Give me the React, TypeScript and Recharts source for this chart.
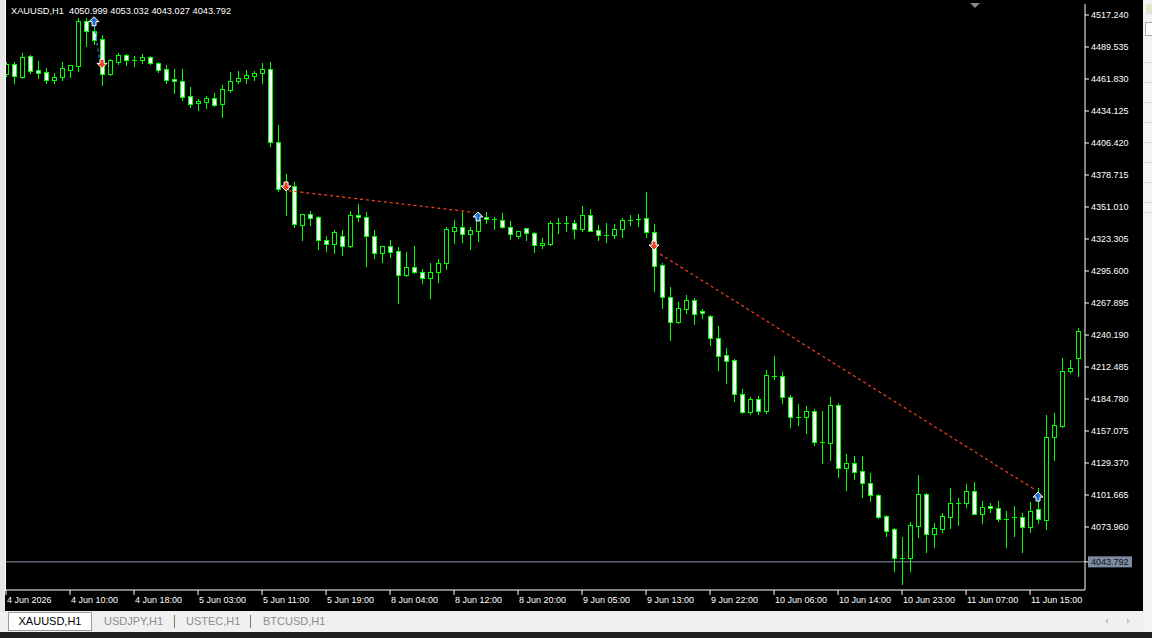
import React from "react";
import {
  ComposedChart,
  Bar,
  XAxis,
  YAxis,
  ReferenceLine,
  ReferenceDot
} from "recharts";

// XAUUSD H1 candles (one per hour)
const OPEN = [
  4466.2, 4474.8, 4463.6, 4481.7, 4469.6, 4467.9, 4461.0, 4463.6, 4469.6, 4473.1,
  4512.0, 4503.4, 4496.5, 4466.2, 4476.5, 4482.6, 4478.3, 4478.3, 4480.9, 4475.7,
  4470.5, 4461.8, 4460.1, 4447.1, 4441.0, 4441.9, 4445.4, 4440.2, 4452.3, 4460.1,
  4462.7, 4464.4, 4467.0, 4470.5, 4407.3, 4366.6, 4369.2, 4335.4, 4344.9, 4342.4,
  4322.4, 4319.0, 4325.9, 4317.2, 4344.1, 4342.4, 4325.9, 4311.2, 4317.2, 4312.9,
  4292.1, 4299.1, 4294.7, 4289.5, 4294.7, 4302.5, 4330.2, 4333.7, 4327.6, 4330.2,
  4342.4, 4340.6, 4339.8, 4333.7, 4325.9, 4332.8, 4328.5, 4318.1, 4319.0, 4337.2,
  4337.2, 4337.2, 4332.0, 4344.1, 4331.1, 4326.8, 4326.8, 4332.0, 4339.8, 4340.6,
  4341.5, 4329.4, 4300.8, 4273.1, 4251.4, 4262.7, 4270.5, 4261.0, 4256.6, 4237.6,
  4222.9, 4218.5, 4189.1, 4173.5, 4184.8, 4174.4, 4204.7, 4204.7, 4186.5, 4169.2,
  4169.2, 4174.4, 4147.6, 4146.7, 4179.6, 4125.0, 4129.4, 4122.4, 4112.1, 4101.7,
  4083.5, 4072.2, 4047.1, 4047.1, 4074.8, 4102.5, 4067.9, 4072.2, 4082.6, 4094.7,
  4094.7, 4105.1, 4085.2, 4092.1, 4090.4, 4080.9, 4082.6, 4082.6, 4074.0, 4089.5,
  4080.0, 4151.9, 4161.4, 4209.0, 4220.3
];
const HIGH = [
  4476.5, 4476.5, 4484.3, 4482.6, 4477.4, 4471.4, 4467.0, 4476.5, 4474.0, 4514.6,
  4514.6, 4507.7, 4499.9, 4479.1, 4484.3, 4483.5, 4481.7, 4483.5, 4481.7, 4476.5,
  4474.0, 4470.5, 4470.5, 4454.9, 4444.5, 4447.1, 4449.7, 4456.6, 4467.9, 4468.8,
  4469.6, 4468.8, 4475.7, 4476.5, 4422.0, 4379.6, 4372.7, 4344.9, 4347.5, 4343.2,
  4325.9, 4331.1, 4331.1, 4347.5, 4353.6, 4346.7, 4331.1, 4317.2, 4322.4, 4316.4,
  4312.0, 4317.2, 4297.3, 4302.5, 4306.0, 4333.7, 4339.8, 4346.7, 4333.7, 4345.8,
  4346.7, 4342.4, 4345.8, 4338.9, 4330.6, 4333.2, 4329.4, 4324.2, 4338.9, 4341.5,
  4343.2, 4339.8, 4351.9, 4349.3, 4335.4, 4337.2, 4336.3, 4341.5, 4344.1, 4344.9,
  4364.0, 4336.3, 4302.5, 4281.7, 4268.8, 4274.8, 4272.2, 4262.7, 4257.5, 4248.0,
  4228.9, 4219.4, 4193.4, 4186.5, 4187.4, 4209.9, 4222.0, 4208.2, 4188.2, 4180.4,
  4178.7, 4176.1, 4174.4, 4186.5, 4181.3, 4137.2, 4135.4, 4135.4, 4120.7, 4102.2,
  4084.0, 4072.7, 4065.3, 4078.3, 4119.0, 4103.4, 4077.4, 4086.1, 4107.7, 4099.1,
  4111.2, 4112.9, 4096.5, 4094.7, 4096.5, 4087.8, 4092.1, 4086.1, 4095.6, 4107.7,
  4170.9, 4172.7, 4220.3, 4218.5, 4246.2
];
const LOW = [
  4464.4, 4458.4, 4462.7, 4467.0, 4462.7, 4458.4, 4458.4, 4461.0, 4463.6, 4468.8,
  4490.4, 4492.1, 4456.6, 4465.3, 4474.8, 4474.0, 4473.1, 4475.7, 4474.8, 4467.9,
  4458.4, 4449.7, 4443.6, 4437.6, 4435.0, 4436.7, 4438.5, 4428.9, 4450.6, 4458.4,
  4458.4, 4461.0, 4458.4, 4403.8, 4364.9, 4344.1, 4333.7, 4322.4, 4335.4, 4314.6,
  4312.9, 4311.2, 4309.5, 4316.4, 4338.9, 4299.9, 4306.9, 4303.4, 4307.7, 4267.9,
  4291.5, 4294.2, 4285.2, 4272.2, 4286.1, 4297.3, 4319.8, 4320.7, 4314.6, 4321.6,
  4337.2, 4332.0, 4332.8, 4323.3, 4324.2, 4322.4, 4312.0, 4315.5, 4318.1, 4328.5,
  4330.2, 4324.2, 4330.2, 4329.8, 4322.4, 4320.7, 4324.2, 4325.0, 4335.4, 4334.6,
  4325.0, 4278.3, 4263.6, 4235.9, 4250.6, 4259.2, 4249.7, 4254.9, 4231.5, 4209.9,
  4198.6, 4183.0, 4172.7, 4171.8, 4171.8, 4172.7, 4202.1, 4181.3, 4160.5, 4162.3,
  4155.3, 4145.0, 4129.4, 4132.0, 4117.2, 4106.0, 4115.5, 4099.9, 4096.5, 4081.8,
  4066.2, 4035.9, 4024.6, 4035.9, 4065.3, 4052.3, 4056.6, 4069.6, 4073.1, 4075.7,
  4091.3, 4084.8, 4077.4, 4086.9, 4079.2, 4056.6, 4066.2, 4052.3, 4069.6, 4077.4,
  4072.2, 4132.0, 4160.9, 4207.3, 4204.7
];
const CLOSE = [
  4474.8, 4464.4, 4480.9, 4468.8, 4467.0, 4461.0, 4463.6, 4471.4, 4474.0, 4512.0,
  4503.4, 4495.6, 4466.2, 4478.3, 4482.6, 4478.3, 4478.0, 4480.9, 4475.7, 4469.6,
  4461.0, 4460.1, 4446.2, 4440.2, 4442.8, 4445.4, 4439.3, 4453.2, 4460.1, 4462.7,
  4465.3, 4467.0, 4470.5, 4407.3, 4366.6, 4369.2, 4336.3, 4344.9, 4341.5, 4322.4,
  4319.0, 4329.4, 4317.2, 4344.1, 4342.4, 4325.9, 4311.2, 4317.2, 4312.0, 4292.1,
  4299.1, 4294.7, 4289.5, 4294.7, 4302.5, 4332.0, 4333.7, 4327.6, 4331.1, 4339.8,
  4340.6, 4340.4, 4333.7, 4327.6, 4330.2, 4328.5, 4318.1, 4319.8, 4337.2, 4337.0,
  4337.4, 4332.0, 4344.1, 4330.2, 4326.8, 4326.6, 4332.0, 4339.8, 4340.0, 4340.8,
  4329.4, 4299.9, 4273.1, 4251.4, 4263.6, 4270.5, 4258.4, 4259.2, 4237.6, 4222.0,
  4217.7, 4189.1, 4173.5, 4184.8, 4174.4, 4205.6, 4204.5, 4186.5, 4169.2, 4169.0,
  4174.4, 4147.6, 4147.4, 4179.6, 4125.0, 4129.4, 4121.6, 4112.1, 4101.7, 4082.6,
  4070.5, 4047.1, 4046.9, 4075.7, 4102.5, 4067.9, 4073.1, 4083.5, 4094.7, 4094.5,
  4105.1, 4085.2, 4091.3, 4090.4, 4080.9, 4080.7, 4082.4, 4074.0, 4087.8, 4080.9,
  4151.9, 4162.3, 4209.0, 4211.6, 4243.7
];

const TIME_TICKS = [0, 8, 16, 24, 32, 40, 48, 56, 64, 72, 80, 88, 96, 104, 112, 120, 128];
const TIME_LABELS = [
  "4 Jun 2026", "4 Jun 10:00", "4 Jun 18:00", "5 Jun 03:00", "5 Jun 11:00",
  "5 Jun 19:00", "8 Jun 04:00", "8 Jun 12:00", "8 Jun 20:00", "9 Jun 05:00",
  "9 Jun 13:00", "9 Jun 22:00", "10 Jun 06:00", "10 Jun 14:00", "10 Jun 23:00",
  "11 Jun 07:00", "11 Jun 15:00"
];
const PRICE_TICKS = [
  4517.24, 4489.535, 4461.83, 4434.125, 4406.42, 4378.715, 4351.01, 4323.305,
  4295.6, 4267.895, 4240.19, 4212.485, 4184.78, 4157.075, 4129.37, 4101.665, 4073.96
];
const BID = 4043.792;
const HEADER = "XAUUSD,H1  4050.999 4053.032 4043.027 4043.792";
const TABS = ["XAUUSD,H1", "USDJPY,H1", "USTEC,H1", "BTCUSD,H1"];

// trade history: dashed lines + arrows (bar index, price)
const TRADE_LINES = [
  { x1: 11, y1: 4508.6, x2: 11.75, y2: 4476.8, color: "#2f7fe0" },
  { x1: 35.3, y1: 4365.1, x2: 58.5, y2: 4346.4, color: "#ff4020" },
  { x1: 81.75, y1: 4310.3, x2: 128.6, y2: 4106.4, color: "#ff4020" }
];
const BUY_MARKS = [
  { x: 11, y: 4511.4 },
  { x: 59, y: 4342.4 },
  { x: 129, y: 4099.9 }
];
const SELL_MARKS = [
  { x: 12, y: 4475.4 },
  { x: 35, y: 4369.2 },
  { x: 81, y: 4318.1 }
];

const GREEN = "#00ff00";
const FONT = '"Liberation Sans", Arial, sans-serif';

const data = OPEN.map((o, i) => ({
  i,
  o,
  h: HIGH[i],
  l: LOW[i],
  c: CLOSE[i],
  range: [LOW[i], HIGH[i]]
}));

const Candle = (props: any) => {
  const { x, y, width, height, payload } = props;
  const { o, h, l, c } = payload;
  const hgt = Math.abs(height);
  const cx = Math.round(x + width / 2) + 0.5;
  const py = (v: number) => (h === l ? y : y + ((h - v) / (h - l)) * hgt);
  const top = Math.round(py(Math.max(o, c)));
  const bot = Math.round(py(Math.min(o, c)));
  const bear = c < o;
  return (
    <g>
      <line
        x1={cx}
        x2={cx}
        y1={Math.round(y)}
        y2={Math.round(y + hgt) + 1}
        stroke={GREEN}
        strokeWidth={1}
      />
      {bot - top < 1 ? (
        <line x1={cx - 2.5} x2={cx + 2.5} y1={top + 0.5} y2={top + 0.5} stroke={GREEN} />
      ) : (
        <rect
          x={cx - 2}
          y={top + 0.5}
          width={4}
          height={bot - top}
          fill={bear ? "#ffffff" : "#000000"}
          stroke={GREEN}
          strokeWidth={1}
        />
      )}
    </g>
  );
};

const TimeTick = (props: any) => {
  const { x, y, payload } = props;
  const idx = TIME_TICKS.indexOf(payload.value);
  return (
    <text x={x + 1} y={y} dy="0.71em" fill="#ffffff" fontSize={9} fontFamily={FONT}>
      {TIME_LABELS[idx]}
    </text>
  );
};

const PriceTick = (props: any) => {
  const { x, y, payload } = props;
  if (payload.value === BID) {
    return (
      <g>
        <rect x={x - 3} y={y - 5.5} width={44} height={11} fill="#7d8ca2" />
        <text x={x} y={y} dy="0.35em" fill="#101010" fontSize={9} fontFamily={FONT}>
          {BID.toFixed(3)}
        </text>
      </g>
    );
  }
  return (
    <text x={x} y={y} dy="0.35em" fill="#ffffff" fontSize={9} fontFamily={FONT}>
      {payload.value.toFixed(3)}
    </text>
  );
};

const BuyArrow = (props: any) => {
  const { cx, cy } = props;
  const p = [
    [0, -5], [5, 0], [2, 0], [2, 4], [-2, 4], [-2, 0], [-5, 0]
  ].map(([dx, dy]) => `${cx + dx},${cy + dy}`).join(" ");
  return <polygon points={p} fill="#1f6fd0" stroke="#ffffff" strokeWidth={1} />;
};

const SellArrow = (props: any) => {
  const { cx, cy } = props;
  const p = [
    [0, 5], [5, 0], [2, 0], [2, -4], [-2, -4], [-2, 0], [-5, 0]
  ].map(([dx, dy]) => `${cx + dx},${cy + dy}`).join(" ");
  return <polygon points={p} fill="#e8401e" stroke="#ffffff" strokeWidth={1} />;
};

export default function App() {
  return (
    <div
      style={{
        position: "absolute",
        left: 0,
        top: 0,
        width: 1152,
        height: 638,
        background: "#f0f0f0",
        overflow: "hidden",
        fontFamily: FONT
      }}
    >
      {/* chart window */}
      <div style={{ position: "absolute", left: 0, top: 0, width: 1143, height: 611, background: "#000" }} />
      <div style={{ position: "absolute", left: 0, top: 0, width: 5, height: 611, background: "#e4e4e4" }} />
      <div style={{ position: "absolute", left: 5, top: 0, width: 1, height: 591, background: "#ffffff" }} />

      <div style={{ position: "absolute", left: 0, top: 0 }}>
        <ComposedChart
          width={1143}
          height={611}
          data={data}
          margin={{ top: 4, right: 0, bottom: 0, left: 6 }}
        >
          <XAxis
            dataKey="i"
            type="number"
            domain={[0, 134.875]}
            allowDataOverflow
            ticks={TIME_TICKS}
            interval={0}
            height={21}
            tickSize={5}
            tickMargin={2}
            axisLine={{ stroke: "#ffffff" }}
            tickLine={{ stroke: "#ffffff" }}
            tick={<TimeTick />}
          />
          <YAxis
            orientation="right"
            type="number"
            domain={[4019.42, 4526.76]}
            allowDataOverflow
            ticks={[...PRICE_TICKS, BID]}
            interval={0}
            width={58}
            tickSize={4}
            tickMargin={2}
            axisLine={{ stroke: "#ffffff" }}
            tickLine={{ stroke: "#ffffff" }}
            tick={<PriceTick />}
          />
          <ReferenceLine y={BID} stroke="#8a97a8" strokeWidth={1} />
          <Bar dataKey="range" barSize={5} shape={<Candle />} isAnimationActive={false} />
          {TRADE_LINES.map((t, i) => (
            <ReferenceLine
              key={"t" + i}
              segment={[{ x: t.x1, y: t.y1 }, { x: t.x2, y: t.y2 }]}
              stroke={t.color}
              strokeWidth={1.2}
              strokeDasharray="3 3"
            />
          ))}
          {BUY_MARKS.map((m, i) => (
            <ReferenceDot key={"b" + i} x={m.x} y={m.y} r={4} shape={<BuyArrow />} />
          ))}
          {SELL_MARKS.map((m, i) => (
            <ReferenceDot key={"s" + i} x={m.x} y={m.y} r={4} shape={<SellArrow />} />
          ))}
        </ComposedChart>
      </div>

      {/* header */}
      <div
        style={{
          position: "absolute",
          left: 11,
          top: 6,
          fontSize: 9.25,
          lineHeight: "11px",
          color: "#ffffff",
          whiteSpace: "pre"
        }}
      >
        {HEADER}
      </div>
      {/* chart shift marker */}
      <div
        style={{
          position: "absolute",
          left: 970,
          top: 3,
          width: 0,
          height: 0,
          borderLeft: "5px solid transparent",
          borderRight: "5px solid transparent",
          borderTop: "5px solid #8a8a8a"
        }}
      />

      {/* tabs */}
      <div style={{ position: "absolute", left: 0, top: 611, width: 1143, height: 21, background: "#f0f0f0" }} />
      <div
        style={{
          position: "absolute",
          left: 8,
          top: 612,
          width: 82,
          height: 17,
          background: "#ffffff",
          border: "1px solid #9a9a9a",
          fontSize: 11,
          lineHeight: "17px",
          textAlign: "center",
          color: "#000"
        }}
      >
        {TABS[0]}
      </div>
      {[104, 186, 263].map((left, i) => (
        <div
          key={TABS[i + 1]}
          style={{
            position: "absolute",
            left,
            top: 612,
            fontSize: 11,
            lineHeight: "18px",
            color: "#8c8c8c",
            whiteSpace: "pre"
          }}
        >
          {TABS[i + 1]}
        </div>
      ))}
      {[174, 250].map((left) => (
        <div key={left} style={{ position: "absolute", left, top: 615, width: 1, height: 13, background: "#7a7a7a" }} />
      ))}
      {/* scroll arrows */}
      <div style={{ position: "absolute", left: 1105, top: 618, width: 0, height: 0, borderTop: "3px solid transparent", borderBottom: "3px solid transparent", borderRight: "3px solid #c4c4c4" }} />
      <div style={{ position: "absolute", left: 1127, top: 618, width: 0, height: 0, borderTop: "3px solid transparent", borderBottom: "3px solid transparent", borderLeft: "3px solid #c4c4c4" }} />

      {/* right side panel */}
      <div style={{ position: "absolute", left: 1143, top: 0, width: 9, height: 632, background: "#f3f3f3" }} />
      <div style={{ position: "absolute", left: 1146, top: 4, width: 6, height: 10, background: "#e8e4cc" }} />
      <div style={{ position: "absolute", left: 1145, top: 22, width: 7, height: 12, background: "#fff", border: "1px solid #a8a8a8" }} />
      {[62, 82, 102, 122, 142, 162, 182, 202, 212].map((t) => (
        <div key={t} style={{ position: "absolute", left: 1143, top: t, width: 9, height: 1, background: "#d6d6d6" }} />
      ))}

      {/* bottom strip */}
      <div style={{ position: "absolute", left: 0, top: 632, width: 1152, height: 6, background: "#1e1e1e" }} />
    </div>
  );
}
